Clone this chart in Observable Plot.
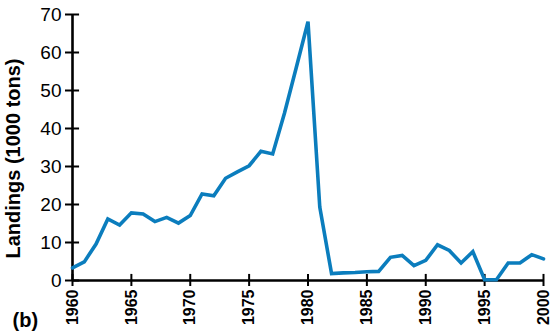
<!DOCTYPE html>
<html>
<head>
<meta charset="utf-8">
<script src="https://cdn.jsdelivr.net/npm/d3@7"></script>
<script src="https://cdn.jsdelivr.net/npm/@observablehq/plot@0.6"></script>
<style>
  html, body { margin: 0; padding: 0; background: #fff; }
  #chart svg { display: block; }
</style>
</head>
<body>
<div id="chart"></div>
<script>
const years = [1960,1961,1962,1963,1964,1965,1966,1967,1968,1969,
               1970,1971,1972,1973,1974,1975,1976,1977,1978,1979,
               1980,1981,1982,1983,1984,1985,1986,1987,1988,1989,
               1990,1991,1992,1993,1994,1995,1996,1997,1998,1999,2000];
const landings = [3.3,4.9,9.6,16.2,14.6,17.8,17.5,15.5,16.6,15.1,
                  17.1,22.8,22.3,26.9,28.6,30.2,34.0,33.3,44.0,56.0,
                  68.1,19.3,1.8,2.0,2.1,2.3,2.4,6.1,6.6,3.9,
                  5.3,9.4,7.9,4.6,7.6,0.2,0.2,4.6,4.6,6.8,5.7];
const xTicks = [1960,1965,1970,1975,1980,1985,1990,1995,2000];
const yTicks = [0,10,20,30,40,50,60,70];
const yLabel = "Landings (1000 tons)";
const panelLabel = "(b)";

const data = years.map((year, i) => ({year, value: landings[i]}));
const font = "'Liberation Sans', Arial, Helvetica, sans-serif";

const chart = Plot.plot({
  width: 550,
  height: 336,
  marginLeft: 72,
  marginRight: 7,
  marginTop: 14,
  marginBottom: 56,
  style: {fontFamily: font, background: "#fff", color: "#000"},
  x: {domain: [1960, 2000]},
  y: {domain: [0, 70]},
  marks: [
    Plot.axisY(yTicks, {tickSize: 7, tickPadding: 4, fontSize: 19, strokeWidth: 2, label: null, tickFormat: d => String(d)}),
    Plot.axisX(xTicks, {tickSize: 6, tickPadding: 3, tickRotate: -90, fontSize: 16, fontWeight: "bold", strokeWidth: 2, label: null, tickFormat: d => String(d)}),
    Plot.ruleY(yTicks, {x1: 1960, x2: 1960.6, strokeWidth: 2}),
    Plot.ruleX(xTicks, {y1: 0, y2: 1.6, strokeWidth: 2}),
    Plot.ruleX([1960], {y1: 0, y2: 70, strokeWidth: 2.6}),
    Plot.ruleY([0], {x1: 1960, x2: 2000, strokeWidth: 2.6}),
    Plot.line(data, {x: "year", y: "value", stroke: "#0b7dbd", strokeWidth: 3.6, strokeLinejoin: "miter", strokeMiterlimit: 6}),
    Plot.text([yLabel], {frameAnchor: "left", dx: -53, dy: 11, rotate: -90, lineAnchor: "bottom", textAnchor: "middle", fontSize: 20, fontWeight: "bold", fill: "#000"}),
    Plot.text([panelLabel], {frameAnchor: "bottom-left", dx: -60, dy: 46, lineAnchor: "bottom", textAnchor: "start", fontSize: 20, fontWeight: "bold", fill: "#000"})
  ]
});
document.getElementById("chart").appendChild(chart);
</script>
</body>
</html>
